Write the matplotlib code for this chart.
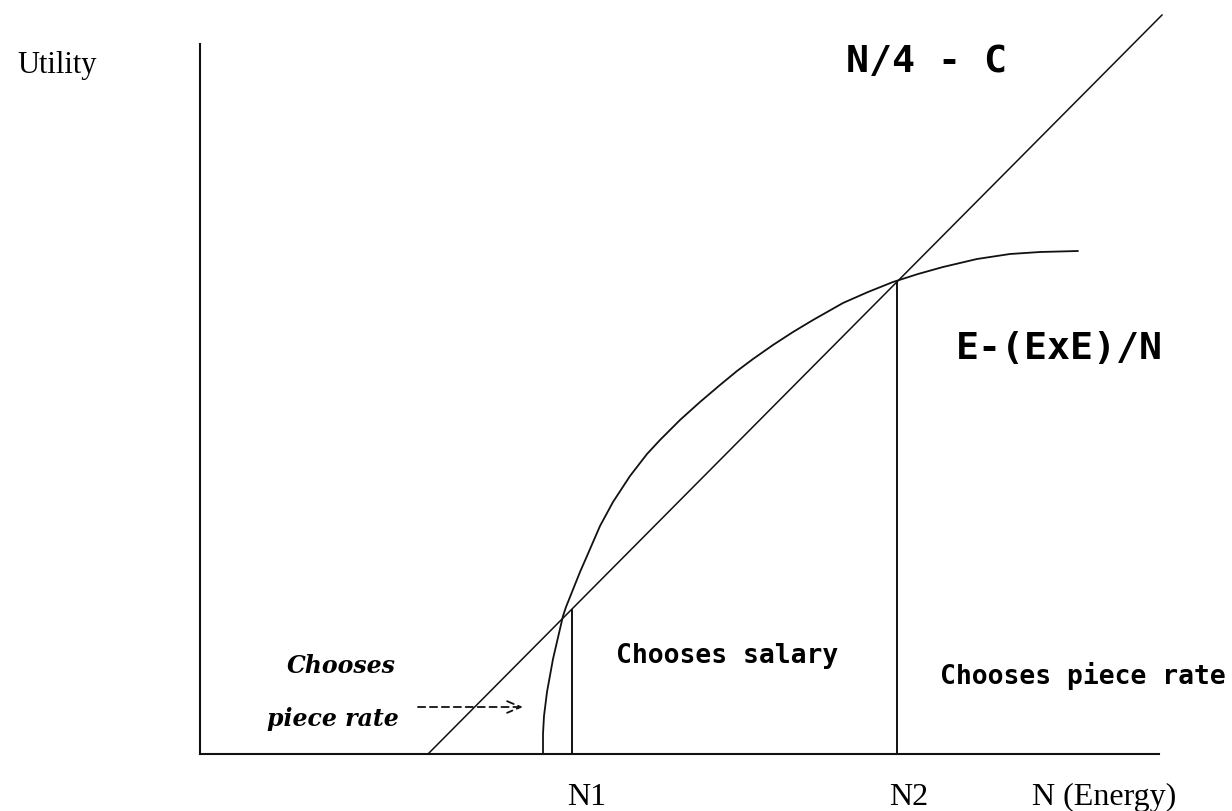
import matplotlib
matplotlib.use("Agg")
import matplotlib.pyplot as plt

# ---- data (units: roughly one pixel of the original diagram, origin at axis corner) ----
diag_x = [228, 962]          # line N/4 - C
diag_y = [0, 739]

# curve E-(ExE)/N, points
curve_x = [343, 343, 344, 347, 353, 363, 366, 380, 387, 400, 413, 430, 447, 460,
           480, 500, 520, 537, 553, 573, 593, 613, 643, 668, 693, 718, 743, 777,
           810, 840, 878]
curve_y = [0, 20, 38, 62, 95, 138, 147, 182, 198, 228, 252, 278, 300, 314,
           334, 352, 369, 383, 395, 409, 422, 434, 451, 462, 472, 480, 487, 495,
           500, 502, 503]

n_marks = ["N1", "N2"]
n_x = [372, 697]
n_top = [144, 473]

x_max = 959
y_max = 710

fig = plt.figure(figsize=(12.32, 8.12), dpi=100)
ax = fig.add_axes([200 / 1232, 57 / 812, 959 / 1232, 710 / 812])
ax.set_xlim(0, x_max)
ax.set_ylim(0, y_max)
for s in ["top", "right"]:
    ax.spines[s].set_visible(False)
for s in ["left", "bottom"]:
    ax.spines[s].set_linewidth(1.5)
    ax.spines[s].set_color("#111111")
ax.set_xticks([])
ax.set_yticks([])

ax.plot(diag_x, diag_y, color="#111111", lw=1.1, clip_on=False)
ax.plot(curve_x, curve_y, color="#111111", lw=1.3, clip_on=False,
        solid_joinstyle="round", solid_capstyle="round")
for nx, nt, lab in zip(n_x, n_top, n_marks):
    ax.plot([nx, nx], [0, nt], color="#111111", lw=1.4, clip_on=False)

# dashed arrow
ax.annotate("", xy=(323, 47), xytext=(218, 47),
            arrowprops=dict(arrowstyle="->,head_length=0.7,head_width=0.3",
                            linestyle=(0, (4, 2.6)), lw=1.3, color="#111111",
                            mutation_scale=14, shrinkA=0, shrinkB=0),
            annotation_clip=False)

serif = "Liberation Serif"
mono = "DejaVu Sans Mono"

def px(x, y):
    return x - 200, 755 - y

ax.text(*px(17, 73), "Utility", family=serif, fontsize=22, ha="left", va="baseline", clip_on=False)
ax.text(*px(587, 805), "N1", family=serif, fontsize=23, ha="center", va="baseline", clip_on=False)
ax.text(*px(909, 805), "N2", family=serif, fontsize=23, ha="center", va="baseline", clip_on=False)
ax.text(*px(1032, 805), "N (Energy)", family=serif, fontsize=23, ha="left", va="baseline", clip_on=False)

ax.text(*px(846, 72), "N/4 - C", family=mono, fontsize=27.5, fontweight="bold",
        ha="left", va="baseline", clip_on=False)
ax.text(*px(956, 359), "E-(ExE)/N", family=mono, fontsize=27.5, fontweight="bold",
        ha="left", va="baseline", clip_on=False)

ax.text(*px(616, 663), "Chooses salary", family=mono, fontsize=19, fontweight="bold",
        ha="left", va="baseline", clip_on=False)
ax.text(*px(940, 684), "Chooses piece rate", family=mono, fontsize=19, fontweight="bold",
        ha="left", va="baseline", clip_on=False)

ax.text(*px(287, 673), "Chooses", family="DejaVu Serif", fontsize=17, fontweight="bold",
        style="italic", ha="left", va="baseline", clip_on=False)
ax.text(*px(267, 726), "piece rate", family="DejaVu Serif", fontsize=17, fontweight="bold",
        style="italic", ha="left", va="baseline", clip_on=False)

fig.savefig("out.png", dpi=100)
